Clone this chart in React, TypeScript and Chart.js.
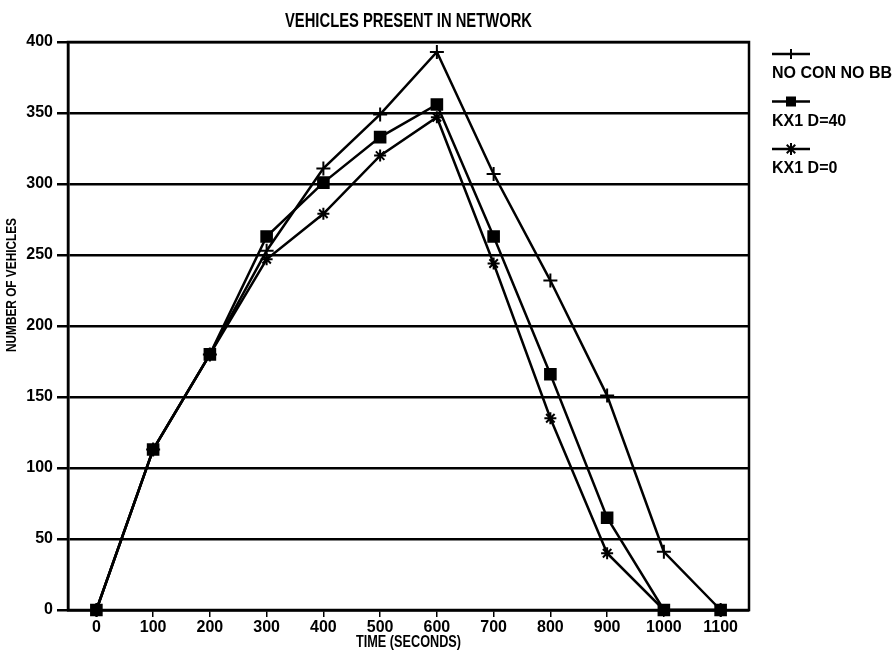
import React, { useEffect, useRef } from 'react';
import { Chart, registerables } from 'chart.js';

Chart.register(...registerables);

// ---- data ----
const TIMES = [0, 100, 200, 300, 400, 500, 600, 700, 800, 900, 1000, 1100];
const NO_CON_NO_BB = [0, 113, 180, 253, 311, 349, 393, 307, 232, 151, 41, 0];
const KX1_D40 = [0, 113, 180, 263, 301, 333, 356, 263, 166, 65, 0, 0];
const KX1_D0 = [0, 113, 180, 247, 279, 320, 347, 244, 135, 40, 0, 0];
const SERIES_NAMES = ['NO CON NO BB', 'KX1 D=40', 'KX1 D=0'];
const X_TICKS = [0, 100, 200, 300, 400, 500, 600, 700, 800, 900, 1000, 1100];
const Y_TICKS = [0, 50, 100, 150, 200, 250, 300, 350, 400];
const CHART_TITLE = 'VEHICLES PRESENT IN NETWORK';
const X_TITLE = 'TIME (SECONDS)';
const Y_TITLE = 'NUMBER OF VEHICLES';

const SANS = "'Liberation Sans', Arial, sans-serif";

function drawMarker(ctx: CanvasRenderingContext2D, style: string, x: number, y: number) {
  ctx.save();
  ctx.strokeStyle = '#000';
  ctx.fillStyle = '#000';
  ctx.lineWidth = 2;
  ctx.beginPath();
  if (style === 'cross') {
    ctx.moveTo(x, y - 5);
    ctx.lineTo(x, y + 5);
    ctx.moveTo(x - 5, y);
    ctx.lineTo(x + 5, y);
    ctx.stroke();
  } else if (style === 'rect') {
    ctx.fillRect(x - 5, y - 5, 10, 10);
  } else {
    const r = 6;
    for (let k = 0; k < 4; k++) {
      const a = (k * Math.PI) / 4;
      ctx.moveTo(x - Math.cos(a) * r, y - Math.sin(a) * r);
      ctx.lineTo(x + Math.cos(a) * r, y + Math.sin(a) * r);
    }
    ctx.stroke();
  }
  ctx.restore();
}

// draws text horizontally compressed to a target width (condensed plotter look)
function condensedText(
  ctx: CanvasRenderingContext2D,
  text: string,
  cx: number,
  cy: number,
  size: number,
  targetWidth: number,
  rotate = 0
) {
  ctx.save();
  ctx.font = `bold ${size}px ${SANS}`;
  ctx.textAlign = 'center';
  ctx.textBaseline = 'middle';
  const w = ctx.measureText(text).width;
  ctx.translate(cx, cy);
  if (rotate) ctx.rotate(rotate);
  ctx.scale(Math.min(1, targetWidth / w), 1);
  ctx.fillText(text, 0, 0);
  ctx.restore();
}

const decorPlugin = {
  id: 'decor',
  beforeDatasetsDraw(chart: any) {
    const { ctx, chartArea: a } = chart;
    ctx.save();
    ctx.strokeStyle = '#000';
    ctx.lineWidth = 2.5;
    ctx.strokeRect(a.left, a.top, a.right - a.left, a.bottom - a.top);
    ctx.restore();
  },
  afterDraw(chart: any) {
    const { ctx, chartArea: a } = chart;
    ctx.save();
    ctx.fillStyle = '#000';
    const midX = (a.left + a.right) / 2;
    condensedText(ctx, CHART_TITLE, midX, 21, 20, 247);
    condensedText(ctx, X_TITLE, midX, 642, 17, 105);
    condensedText(ctx, Y_TITLE, 12, 285, 15, 134, -Math.PI / 2);
    // legend
    const styles = chart.data.datasets.map((d: any) => d.pointStyle);
    ctx.font = `bold 16px ${SANS}`;
    ctx.textAlign = 'left';
    ctx.textBaseline = 'middle';
    SERIES_NAMES.forEach((name, i) => {
      const sy = 54 + i * 47.5;
      ctx.strokeStyle = '#000';
      ctx.lineWidth = 2.5;
      ctx.beginPath();
      ctx.moveTo(772, sy);
      ctx.lineTo(810, sy);
      ctx.stroke();
      drawMarker(ctx, styles[i], 791, sy);
      ctx.fillText(name, 772, sy + 20);
    });
    ctx.restore();
  },
};

export default function App() {
  const ref = useRef<HTMLCanvasElement | null>(null);

  useEffect(() => {
    if (!ref.current) return;
    const mk = (arr: number[]) => TIMES.map((t, i) => ({ x: t, y: arr[i] }));
    const common = {
      borderColor: '#000',
      borderWidth: 2.5,
      pointBorderColor: '#000',
      pointBackgroundColor: '#000',
      pointBorderWidth: 2,
      tension: 0,
      fill: false,
      clip: false as any,
    };
    const chart = new Chart(ref.current, {
      type: 'line',
      data: {
        datasets: [
          { ...common, label: SERIES_NAMES[0], data: mk(NO_CON_NO_BB), pointStyle: 'cross', pointRadius: 7 },
          { ...common, label: SERIES_NAMES[1], data: mk(KX1_D40), pointStyle: 'rect', pointRadius: 7.5 },
          { ...common, label: SERIES_NAMES[2], data: mk(KX1_D0), pointStyle: 'star', pointRadius: 6 },
        ],
      },
      options: {
        responsive: false,
        devicePixelRatio: 1,
        animation: false,
        layout: { padding: { top: 42, right: 144, left: 0, bottom: 0 } },
        plugins: {
          legend: { display: false },
          tooltip: { enabled: false },
          title: { display: false },
        },
        scales: {
          x: {
            type: 'linear',
            min: -50,
            max: 1150,
            afterBuildTicks: (s: any) => {
              s.ticks = X_TICKS.map((v) => ({ value: v }));
            },
            afterFit: (s: any) => {
              s.height = 45;
            },
            grid: { drawOnChartArea: false, tickLength: 7, lineWidth: 1.5, color: '#000' },
            border: { display: true, color: '#000', width: 2.5 },
            ticks: {
              color: '#000',
              font: { family: SANS, size: 16, weight: 'bold' },
              padding: 1,
              maxRotation: 0,
              autoSkip: false,
              callback: (v: any) => String(v),
            },
          },
          y: {
            type: 'linear',
            min: 0,
            max: 400,
            afterBuildTicks: (s: any) => {
              s.ticks = Y_TICKS.map((v) => ({ value: v }));
            },
            afterFit: (s: any) => {
              s.width = 68;
            },
            grid: { color: '#000', lineWidth: 2.5, tickLength: 11 },
            border: { display: true, color: '#000', width: 2.5 },
            ticks: {
              color: '#000',
              font: { family: SANS, size: 16, weight: 'bold' },
              padding: 4,
              callback: (v: any) => String(v),
            },
          },
        },
      },
      plugins: [decorPlugin],
    });
    return () => chart.destroy();
  }, []);

  return (
    <div style={{ position: 'absolute', left: 0, top: 0, width: 893, height: 655, background: '#fff' }}>
      <canvas ref={ref} width={893} height={655} style={{ display: 'block' }} />
    </div>
  );
}
